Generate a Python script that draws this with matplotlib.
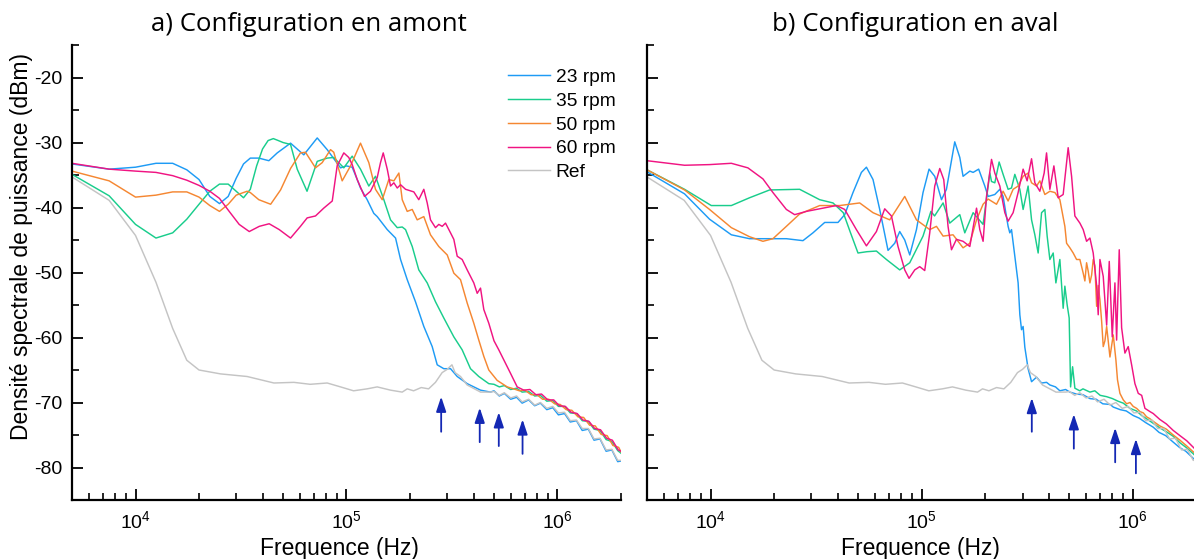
import matplotlib
matplotlib.use('Agg')
import matplotlib.pyplot as plt
from matplotlib.ticker import MultipleLocator, LogLocator, NullFormatter

plt.rcParams['font.family'] = ['Liberation Sans', 'DejaVu Sans']
plt.rcParams['axes.unicode_minus'] = False

# ---------------- data ----------------
labels = ['23 rpm', '35 rpm', '50 rpm', '60 rpm', 'Ref']
colors = ['#1e9bf5', '#19cd8c', '#f58732', '#f01482', '#c4c4c4']
titles = ['a) Configuration en amont', 'b) Configuration en aval']
ytick_vals = [-20, -30, -40, -50, -60, -70, -80]

# Reference (same in both panels)
ref_f = [5000, 7500, 10000, 12500, 15000, 17500, 20000, 25300, 33800, 45300, 56300, 67300,
         81000, 93700, 108000, 125300, 139800, 161700, 183700, 194000, 208000, 226000, 245000,
         264000, 284000, 300000, 316000, 327000, 347000, 373000, 432000, 481300, 500000, 530000,
         560000, 600000, 640000, 680000, 730000, 780000, 830000, 890000, 950000, 1010000,
         1080000, 1150000, 1230000, 1310000, 1400000, 1490000, 1590000, 1700000, 1810000,
         1930000, 2000000]
ref_db = [-35.3, -38.9, -44.3, -51.5, -58.6, -63.5, -65.0, -65.6, -66.0, -67.0, -66.9, -67.2,
          -67.0, -67.6, -68.2, -67.9, -67.6, -68.1, -68.4, -67.9, -68.2, -67.7, -67.9,
          -66.9, -65.4, -64.9, -64.2, -65.4, -66.0, -67.3, -68.4, -68.4, -68.3, -68.9,
          -68.5, -69.3, -69.0, -69.9, -69.5, -70.4, -70.0, -70.9, -70.6, -71.6,
          -71.5, -72.8, -72.7, -74.0, -74.0, -75.6, -75.5, -77.3, -77.2, -78.9, -78.9]

# Panel a) upstream
a23_f = [5000, 7500, 10000, 12500, 15000, 17500, 20000, 22500, 25000, 27500, 30000, 32500,
         35000, 38400, 42850, 46960, 54300, 62750, 72650, 81000, 93700, 100000, 106400,
         112400, 116500, 125300, 134700, 139800, 156000, 170800, 180400, 194000, 212300,
         232500, 254800, 269100, 289200, 311200, 334800, 373300, 431700, 481300, 500000,
         530000, 560000, 600000, 640000, 680000, 730000, 780000, 830000, 890000, 950000,
         1010000, 1080000, 1150000, 1230000, 1310000, 1400000, 1490000, 1590000, 1700000,
         1810000, 1930000, 2000000]
a23_db = [-33.3, -34.1, -33.8, -33.2, -33.2, -34.2, -35.7, -38.3, -39.4, -38.3, -35.5, -33.3,
          -32.4, -32.4, -32.8, -31.6, -30.1, -31.9, -29.3, -31.1, -33.9, -33.6, -33.8,
          -35.7, -37.0, -38.8, -40.9, -41.4, -43.4, -44.7, -48.0, -51.1, -54.5,
          -58.3, -61.4, -64.2, -64.8, -64.8, -66.0, -67.1, -68.1, -68.4, -68.2,
          -69.0, -68.6, -69.5, -69.2, -70.1, -69.6, -70.5, -70.1, -71.1, -70.8,
          -71.9, -71.7, -73.0, -72.8, -74.3, -74.1, -75.8, -75.6, -77.5,
          -77.3, -79.1, -79.0]

a35_f = [5000, 7500, 10000, 12500, 15000, 17500, 20000, 22500, 25000, 27500, 30000, 32500,
         35000, 37500, 40000, 42500, 45000, 47500, 50000, 54300, 58400, 65000, 72650, 81000,
         87000, 97100, 106400, 116500, 127600, 137200, 150300, 161700, 174000, 183700, 190500,
         204900, 220100, 241300, 264100, 289200, 322600, 353400, 387000, 423700, 472500,
         500000, 530000, 560000, 600000, 640000, 680000, 730000, 780000, 830000, 890000,
         950000, 1010000, 1080000, 1150000, 1230000, 1310000, 1400000, 1490000, 1590000,
         1700000, 1810000, 1930000, 2000000]
a35_db = [-34.9, -38.2, -42.6, -44.7, -43.9, -41.8, -39.5, -37.5, -36.4, -36.4, -37.5, -38.5,
          -37.2, -33.6, -31.0, -29.7, -29.4, -29.7, -30.0, -30.3, -34.1, -37.5, -32.9, -32.4,
          -32.3, -33.9, -32.1, -34.1, -36.7, -35.2, -38.8, -41.9, -43.1, -43.0, -43.4,
          -46.0, -49.6, -51.6, -54.5, -57.0, -59.9, -61.9, -64.8, -66.0, -67.1,
          -67.2, -67.6, -67.4, -68.0, -67.8, -68.4, -68.3, -69.0, -68.9, -69.8,
          -69.7, -70.6, -70.6, -71.6, -71.7, -72.8, -72.9, -74.1, -74.3,
          -75.7, -76.0, -77.4, -77.8]

a50_f = [5000, 7500, 10000, 12500, 15000, 17500, 20000, 22500, 25000, 27500, 30000, 33800,
         35000, 38400, 43700, 48700, 54300, 60500, 63900, 71300, 76700, 84000, 87000, 95400,
         104500, 116500, 127600, 137200, 147700, 158700, 167700, 177100, 183700, 194000,
         204900, 216300, 232500, 250100, 273800, 300200, 322600, 347000, 373300, 401200,
         423700, 447500, 472500, 517800, 577500, 620000, 660000, 700000, 750000, 800000,
         850000, 910000, 970000, 1030000, 1100000, 1170000, 1250000, 1330000, 1420000,
         1510000, 1610000, 1720000, 1830000, 1950000, 2000000]
a50_db = [-34.4, -35.9, -38.4, -38.1, -37.6, -37.6, -38.4, -39.7, -40.6, -39.5, -38.1, -37.5,
          -37.7, -38.8, -39.5, -37.3, -34.0, -31.6, -31.5, -33.9, -33.1, -31.1, -31.5, -35.9,
          -33.6, -30.1, -33.1, -37.2, -38.8, -35.7, -35.9, -34.7, -38.8, -40.6,
          -40.3, -41.9, -41.4, -44.2, -46.0, -47.3, -50.1, -51.1, -54.7, -57.8,
          -60.4, -62.9, -65.0, -66.6, -67.6, -67.9, -68.2, -68.1, -68.8, -68.8,
          -69.5, -69.5, -70.2, -70.3, -71.1, -71.2, -72.2, -72.3, -73.5,
          -73.6, -74.9, -75.1, -76.6, -76.9, -77.6]

a60_f = [5000, 7500, 10000, 12500, 15000, 17500, 20000, 22500, 25000, 27800, 31000, 34600,
         38600, 43000, 48000, 54300, 60500, 65100, 71300, 78000, 85600, 90300, 97100, 102500,
         106400, 112400, 121700, 129900, 139800, 144900, 149300, 156000, 161700, 167700,
         174000, 180400, 190500, 208500, 220100, 232500, 241300, 250100, 264100, 273800,
         284200, 294600, 311200, 322600, 334800, 353400, 373300, 387000, 401200, 416400,
         431700, 447500, 472500, 500000, 527000, 598700, 644200, 692300, 740000, 790000,
         840000, 900000, 960000, 1020000, 1090000, 1160000, 1240000, 1320000, 1410000,
         1500000, 1600000, 1710000, 1820000, 1940000, 2000000]
a60_db = [-33.2, -34.1, -34.4, -34.6, -35.1, -35.8, -36.6, -37.5, -38.6, -40.6, -42.6, -43.7,
          -42.9, -42.5, -43.4, -44.7, -42.9, -41.6, -41.3, -40.1, -39.0, -33.6, -31.6, -32.3,
          -33.4, -35.7, -38.3, -37.5, -35.4, -33.1, -31.6, -34.1, -36.7, -36.2,
          -37.0, -36.5, -37.2, -37.6, -38.8, -37.2, -39.3, -41.9, -43.1, -42.6,
          -42.9, -42.4, -43.9, -44.9, -47.5, -48.0, -49.6, -50.6, -51.6, -53.2,
          -52.4, -55.7, -57.8, -60.5, -61.9, -65.5, -67.6, -68.1, -68.0, -68.8,
          -68.7, -69.6, -69.6, -70.5, -70.6, -71.5, -71.7, -72.7, -72.9,
          -74.0, -74.2, -75.5, -75.8, -77.3, -77.5]

# Panel b) downstream
b23_f = [5000, 7530, 9890, 12540, 15300, 19740, 22850, 27380, 30530, 34710, 40120, 43170,
         47250, 51790, 54700, 58780, 63230, 69230, 74470, 78650, 83070, 87740, 94400, 101400,
         108300, 115200, 124000, 130900, 143300, 151400, 156900, 168900, 175100, 186000,
         198900, 206200, 221800, 234300, 242800, 256400, 261200, 266100, 275900, 286000,
         291400, 296800, 302000, 307700, 318900, 331100, 349700, 369300, 390000, 404300,
         430000, 450800, 480000, 502800, 540000, 580000, 626000, 670000, 720000, 780000,
         806800, 870000, 930000, 1003000, 1070000, 1150000, 1248000, 1330000, 1430000,
         1552000, 1660000, 1780000, 1932000, 2000000]
b23_db = [-34.5, -37.9, -41.8, -44.2, -44.8, -44.8, -44.8, -45.1, -43.9, -42.3, -42.3, -41.1,
          -37.7, -34.6, -33.8, -35.7, -40.3, -46.6, -45.5, -43.7, -45.0, -47.3, -43.4, -37.7,
          -34.1, -35.2, -38.8, -37.2, -29.9, -32.3, -35.2, -34.4, -34.6, -34.1,
          -36.7, -38.3, -38.0, -37.2, -38.3, -42.9, -43.9, -43.4, -47.5, -51.6,
          -56.5, -58.8, -58.3, -61.5, -64.8, -66.8, -66.1, -67.0, -66.9, -67.3,
          -67.6, -68.2, -68.0, -68.4, -68.7, -68.8, -69.4, -69.5, -70.2, -70.3,
          -70.7, -71.1, -71.3, -72.0, -72.4, -73.1, -73.8, -74.6, -75.1,
          -76.1, -76.9, -77.5, -78.6, -79.1]

b35_f = [5000, 7530, 10080, 12540, 15300, 19040, 26410, 32860, 38000, 42500, 46000, 49900,
         55000, 61000, 68030, 78650, 87740, 101400, 110500, 115000, 126200, 135700, 151400,
         159900, 175100, 195200, 210100, 214000, 221800, 232500, 242800, 256400, 266100,
         275900, 291400, 302000, 318900, 331100, 343200, 355800, 369300, 382800, 392500,
         404300, 419200, 431700, 450800, 467400, 476100, 488200, 499000, 506700, 517900,
         531000, 560000, 580000, 626000, 660000, 700000, 750000, 800000, 850000, 900000,
         968000, 1040000, 1100000, 1160000, 1248000, 1340000, 1440000, 1552000, 1670000,
         1800000, 1932000, 2000000]
b35_db = [-34.2, -37.2, -39.7, -39.7, -38.5, -37.3, -37.2, -38.8, -39.3, -40.8, -43.9, -47.0,
          -46.8, -46.7, -48.0, -49.6, -48.5, -44.4, -40.6, -41.3, -39.3, -42.4, -41.1,
          -43.9, -40.8, -42.6, -34.7, -36.0, -36.2, -33.0, -34.9, -37.2, -37.0,
          -34.9, -37.2, -40.3, -36.7, -41.9, -44.2, -47.0, -40.8, -40.3, -44.4,
          -48.0, -47.0, -51.6, -48.0, -55.5, -52.1, -55.0, -57.0, -67.6, -64.5,
          -67.8, -68.2, -67.9, -68.4, -68.2, -68.9, -69.1, -69.4, -69.8, -70.1,
          -70.9, -71.3, -72.0, -72.5, -73.2, -73.9, -74.5, -75.2, -76.2,
          -77.0, -77.9, -78.4]

b50_f = [5000, 7530, 9890, 12540, 15300, 17700, 19740, 22850, 26410, 32860, 40870, 50840,
         58780, 70520, 83070, 94400, 109100, 117400, 126200, 140700, 156900, 168900, 181700,
         195200, 206200, 226000, 242800, 256400, 270800, 286000, 302000, 318900, 331100,
         349700, 362500, 382800, 404300, 427000, 450800, 476100, 485100, 502800, 521300,
         541000, 560800, 581400, 592200, 603300, 614000, 625600, 637400, 648500, 660700,
         673100, 684900, 697800, 710900, 723400, 737000, 750900, 778400, 806800, 830800,
         845000, 867900, 900000, 933500, 968000, 1003000, 1041000, 1080000, 1120000,
         1160000, 1204000, 1248000, 1340000, 1440000, 1552000, 1670000, 1800000, 1932000,
         2000000]
b50_db = [-34.2, -37.3, -40.3, -43.1, -44.5, -45.2, -44.8, -42.9, -41.0, -39.7, -39.7, -39.3,
          -40.8, -41.9, -38.3, -41.9, -43.4, -42.9, -44.4, -44.2, -46.2, -45.5, -41.9,
          -39.5, -38.7, -39.5, -37.5, -39.0, -37.2, -36.7, -35.2, -34.7, -36.2,
          -36.7, -35.9, -38.0, -37.5, -37.7, -38.8, -42.9, -45.5, -46.2, -47.0,
          -48.0, -48.0, -50.1, -51.3, -48.5, -49.8, -51.6, -50.4, -48.0, -49.0,
          -55.2, -52.0, -54.2, -57.5, -61.4, -60.5, -58.3, -63.0, -59.6, -63.5,
          -66.5, -68.6, -69.6, -70.2, -70.0, -70.6, -70.9, -71.4, -71.6,
          -72.2, -72.5, -72.9, -73.6, -74.1, -75.0, -75.8, -76.7, -77.6,
          -78.0]

b60_f = [5000, 7530, 9890, 12540, 15020, 17700, 19740, 22850, 25010, 28420, 34070, 39420,
         43170, 49030, 54700, 61000, 66770, 71850, 77210, 83070, 87070, 92650, 97840, 103300,
         109100, 115200, 121700, 127100, 133200, 138300, 146000, 156900, 168900, 181700,
         188300, 195200, 202600, 214000, 221800, 234300, 247400, 256400, 270800, 286000,
         302000, 315500, 331100, 343200, 362500, 379900, 389900, 404300, 422400, 442600,
         467400, 493600, 512300, 531000, 560800, 581400, 603300, 625600, 648500, 673100,
         684900, 697800, 723400, 750900, 772500, 798100, 821800, 837100, 861300, 884100,
         916400, 950000, 985800, 1022000, 1060000, 1100000, 1140000, 1204000, 1248000,
         1340000, 1440000, 1552000, 1670000, 1800000, 1932000, 2000000]
b60_db = [-32.8, -33.5, -33.4, -33.2, -33.9, -35.6, -37.7, -40.3, -41.1, -40.6, -40.1, -39.7,
          -40.3, -43.4, -45.9, -43.7, -40.2, -41.3, -46.0, -49.6, -50.9, -49.6, -49.1, -49.7,
          -43.9, -36.7, -34.0, -35.7, -42.9, -46.5, -44.9, -45.2, -46.0, -40.1,
          -43.4, -45.2, -38.3, -32.6, -34.7, -36.7, -40.8, -42.1, -40.8, -37.7,
          -34.1, -35.9, -32.5, -36.2, -37.5, -34.7, -31.6, -37.2, -33.6, -38.5,
          -38.0, -30.8, -35.2, -41.3, -42.4, -43.4, -45.2, -44.7, -47.0, -52.0,
          -56.5, -48.0, -50.6, -58.1, -48.3, -59.9, -51.6, -60.4, -46.5, -58.5,
          -62.4, -61.4, -64.2, -67.1, -68.6, -68.9, -70.9, -71.4, -71.7,
          -72.6, -73.3, -74.3, -75.1, -75.9, -76.9, -77.4]

# arrows: frequency, head level, tail level (dBm)
arrows_a_f = [281000, 428000, 527000, 683000]
arrows_a_head = [-69.1, -70.8, -71.5, -72.6]
arrows_a_tail = [-74.5, -76.1, -76.7, -77.9]
arrows_b_f = [332000, 525000, 824000, 1033000]
arrows_b_head = [-69.3, -71.8, -73.9, -75.6]
arrows_b_tail = [-74.5, -77.1, -79.2, -80.9]

panels = [
    dict(series=[(a23_f, a23_db), (a35_f, a35_db), (a50_f, a50_db), (a60_f, a60_db), (ref_f, ref_db)],
         arrows=(arrows_a_f, arrows_a_head, arrows_a_tail)),
    dict(series=[(b23_f, b23_db), (b35_f, b35_db), (b50_f, b50_db), (b60_f, b60_db), (ref_f, ref_db)],
         arrows=(arrows_b_f, arrows_b_head, arrows_b_tail)),
]

# ---------------- figure ----------------
W, H = 1194, 559
fig = plt.figure(figsize=(W / 100, H / 100), dpi=100)
ax_pos = [(72, 45, 549, 455), (647, 45, 549.5, 455)]
title_x = [309, 915]
arrow_color = '#1428b4'

for i, (p, (x0, y0, w, h)) in enumerate(zip(panels, ax_pos)):
    ax = fig.add_axes([x0 / W, 1 - (y0 + h) / H, w / W, h / H])
    for (f, d), lab, c in zip(p['series'], labels, colors):
        ax.plot(f, d, color=c, lw=1.05, label=lab)
    af, ah, at = p['arrows']
    for f, hd, tl in zip(af, ah, at):
        ax.annotate('', xy=(f, hd), xytext=(f, tl),
                    arrowprops=dict(arrowstyle='-|>,head_length=0.9,head_width=0.3',
                                    color=arrow_color, lw=1.3, shrinkA=0, shrinkB=0))
    ax.set_xscale('log')
    ax.set_xlim(5000, 2e6)
    ax.set_ylim(-85, -15)
    ax.yaxis.set_major_locator(MultipleLocator(10))
    ax.yaxis.set_minor_locator(MultipleLocator(5))
    ax.set_yticks(ytick_vals)
    ax.xaxis.set_major_locator(LogLocator(base=10, numticks=10))
    ax.xaxis.set_minor_locator(LogLocator(base=10, subs=range(2, 10), numticks=20))
    ax.xaxis.set_minor_formatter(NullFormatter())
    for s in ['top', 'right']:
        ax.spines[s].set_visible(False)
    for s in ['left', 'bottom']:
        ax.spines[s].set_linewidth(1.6)
    ax.tick_params(axis='both', which='major', direction='in', length=8, width=1.3,
                   labelsize=14, pad=7)
    ax.tick_params(axis='both', which='minor', direction='in', length=5, width=1.2)
    ax.set_xlabel('Frequence (Hz)', fontsize=16.5)
    ax.xaxis.set_label_coords(0.488 if i == 0 else 0.497, -0.081)
    ax.xaxis.label.set_va('top')
    if i == 0:
        ax.set_yticklabels([str(v) for v in ytick_vals])
        ax.set_ylabel('Densité spectrale de puissance (dBm)', fontsize=16.5)
        ax.yaxis.set_label_coords(-0.071, 0.558)
        ax.legend(loc='upper left', bbox_to_anchor=(0.794, 0.948), frameon=False,
                  fontsize=13.8, handlelength=2.2, handletextpad=0.3, labelspacing=0.33,
                  borderpad=0, borderaxespad=0)
    else:
        ax.tick_params(axis='y', labelleft=False)
    fig.text(title_x[i] / W, 1 - 31 / H, titles[i], ha='center', va='baseline',
             fontsize=18.5, family=['Open Sans', 'DejaVu Sans'])

fig.savefig('out.png', dpi=100)
